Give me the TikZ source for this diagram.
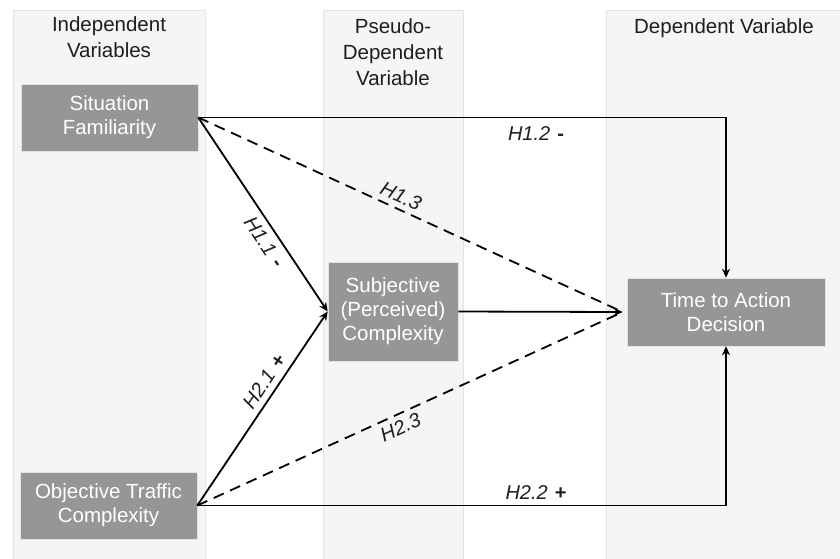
\documentclass[tikz,border=0pt]{standalone}
\usepackage{fontspec}
\setmainfont{Liberation Sans}
\usetikzlibrary{arrows.meta}
\definecolor{band}{RGB}{245,245,245}
\definecolor{bandedge}{RGB}{228,228,228}
\definecolor{boxgray}{RGB}{150,150,150}
\definecolor{txt}{RGB}{30,30,30}
\newcommand{\sgn}[1]{\hspace{7pt}{\upshape\bfseries #1}}
\begin{document}
\begin{tikzpicture}[x=1pt,y=-1pt,
  varbox/.style={fill=boxgray,draw=bandedge,line width=0.6pt,text=white,align=center,font=\fontsize{20.5}{24}\selectfont,inner sep=0pt},
  head/.style={text=txt,align=center,font=\fontsize{20.5}{26}\selectfont},
  hyp/.style={text=txt,font=\fontsize{20}{22}\selectfont\itshape,inner sep=1pt},
  conn/.style={line width=1.8pt,black},
  arr/.style={conn,-{Stealth[length=9pt,width=8pt]}},
  dconn/.style={line width=1.8pt,black,dash pattern=on 11pt off 7pt}]
\useasboundingbox (0,0) rectangle (840,558);
% bands
\fill[band] (13,10) rectangle (205,560);
\draw[bandedge,line width=0.8pt] (13,560) -- (13,10) -- (205,10) -- (205,560);
\fill[band] (323,10) rectangle (463,560);
\draw[bandedge,line width=0.8pt] (323,560) -- (323,10) -- (463,10) -- (463,560);
\fill[band] (606,10) rectangle (842,560);
\draw[bandedge,line width=0.8pt] (606,560) -- (606,10) -- (842,10);
% headers
\node[head] (h1) at (109,37) {Independent\\Variables};
\node[head] (h2) at (393,52) {Pseudo-\\Dependent\\Variable};
\node[head] (h3) at (724,28) {Dependent Variable};
% boxes
\node[varbox,minimum width=177pt,minimum height=67pt] (sf) at (109.5,117.5) {Situation\\Familiarity};
\node[varbox,minimum width=177pt,minimum height=67pt] (otc) at (108.5,505.5) {Objective Traffic\\Complexity};
\node[varbox,minimum width=130pt,minimum height=99pt] (subj) at (393,311.5) {Subjective\\(Perceived)\\Complexity};
\node[varbox,minimum width=198pt,minimum height=68pt] (tad) at (726,312) {Time to Action\\Decision};
% coordinates
\coordinate (sfo) at (sf.east);
\coordinate (otco) at (otc.east);
\coordinate (tadin) at ([xshift=-4pt]tad.west);
\coordinate (c1) at (tad.north |- sf.east);
\coordinate (c2) at (tad.south |- otc.east);
% connectors
\draw[arr] (sfo) -- (c1) -- (tad.north);
\draw[arr] (otco) -- (c2) -- (tad.south);
\draw[arr] (sfo) -- (subj.west) node[hyp,pos=0.6,sloped,below=5pt] {H1.1\sgn{-}};
\draw[arr] (otco) -- (subj.west) node[hyp,pos=0.6,sloped,above=5pt] {H2.1\sgn{+}};
\draw[dconn] (sfo) -- (tadin) node[hyp,pos=0.465,sloped,above=4pt] {H1.3};
\draw[dconn] (otco) -- (tadin) node[hyp,pos=0.465,sloped,below=4pt] {H2.3};
\draw[arr] (subj.east) -- (tadin);
\node[hyp] (l12) at (536,134) {H1.2\sgn{-}};
\node[hyp] (l22) at (536,493) {H2.2\sgn{+}};
\end{tikzpicture}
\end{document}
